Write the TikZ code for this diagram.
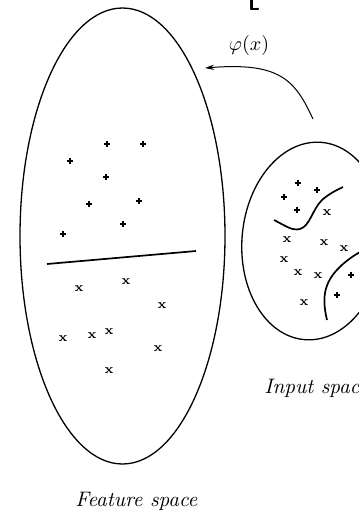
\documentclass[tikz,border=0pt]{standalone}
\usetikzlibrary{arrows.meta}
\begin{document}
\begin{tikzpicture}[x=0.5pt,y=-0.5pt,
  outline/.style={line width=0.65pt},
  boundary/.style={line width=0.85pt},
  xmark/.style={inner sep=0pt, font=\fontsize{6.5}{7}\selectfont\bfseries},
  label/.style={inner sep=0pt, font=\fontsize{10.5}{12}\selectfont\itshape},
  pl/.pic={\draw[line width=0.6pt] (-3.2,0)--(3.2,0) (0,-3.2)--(0,3.2);}]
\useasboundingbox (0,0) rectangle (359,511);
% feature space ellipse
\draw[outline] (122.5,236) ellipse [x radius=102.5, y radius=228];
% input space ellipse
\draw[outline, rotate around={-5:(313,241)}] (313,241) ellipse [x radius=71, y radius=99];
% separating line
\draw[boundary] (47,264) -- (196,251);
% plus marks in feature space
\foreach \p in {(107,144),(143,144),(70,161),(106,177),(89,204),(139,201),(123,224),(63,234)}
  \pic at \p {pl};
% x marks in feature space
\foreach \p [count=\i] in {(79,289),(126,282),(162,306),(63,339),(92,336),(109,332),(158,349),(109,371)}
  \node[xmark] (fx\i) at \p {x};
% input space marks
\foreach \p in {(298,183),(317,190),(284,197),(297,210),(351,275),(337,295)}
  \pic at \p {pl};
\foreach \p [count=\i] in {(327,213),(287,240),(324,243),(344,249),(284,260),(298,273),(318,276),(304,303)}
  \node[xmark] (ix\i) at \p {x};
% boundaries in input space
\draw[boundary] (274,220) .. controls (286,226) and (292,231) .. (300,229)
  .. controls (310,226) and (312,210) .. (322,200)
  .. controls (330,193) and (337,190) .. (343,187);
\draw[boundary] (327,320) .. controls (321,295) and (325,280) .. (343,264)
  .. controls (350,258) and (356,254) .. (364,250);
% mapping arrow
\coordinate (arrowstart) at (313,119);
\coordinate (arrowend) at (205,68);
\draw[line width=0.5pt, -{Stealth[length=4.5pt,width=2.6pt]}] (arrowstart)
  .. controls (295,80) and (280,62) .. (arrowend);
\node[inner sep=0pt] (phi) at (249,45) {$\varphi(x)$};
% labels
\node[label, anchor=base west] (feat) at (75,506) {Feature space};
\node[label, anchor=base west] (inp) at (264,393) {Input space};
\node[inner sep=0pt, anchor=base west, font=\sffamily\bfseries] (ltr) at (248,10) {L};
\end{tikzpicture}
\end{document}
